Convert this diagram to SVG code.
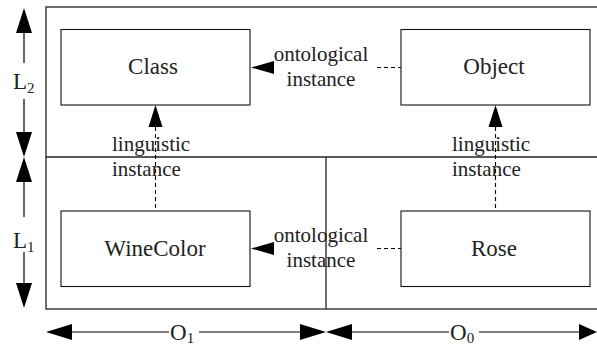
<svg xmlns="http://www.w3.org/2000/svg" width="597" height="345" viewBox="0 0 597 345">
<style>
.frame{fill:none;stroke:#222;stroke-width:1.3}
.box{fill:#fff;stroke:#111;stroke-width:1.1}
text{font-family:'Liberation Serif','DejaVu Serif',serif;fill:#222}
.lbl{font-size:23px;text-anchor:middle}
.ann{font-size:21px}
.dim{font-size:23px}
.sub{font-size:15px}
.solid{stroke:#000;stroke-width:1.2;fill:none}
.dash{stroke:#000;stroke-width:1.1;fill:none;stroke-dasharray:4,3}
.head{fill:#000}
</style>
<g id="frame">
<rect class="frame" x="46" y="7" width="560" height="302"/>
<line class="frame" x1="46" y1="157" x2="597" y2="157"/>
<line class="frame" x1="326" y1="157" x2="326" y2="309"/>
</g>
<g id="dimensions">
<polygon class="head" points="24,8 16,33 32,33"/>
<line class="solid" x1="24" y1="33" x2="24" y2="63"/>
<line class="solid" x1="24" y1="99" x2="24" y2="132"/>
<polygon class="head" points="24,157 16,132 32,132"/>
<text class="dim" x="13" y="89" font-family="Liberation Serif, serif">L<tspan class="sub" dy="4">2</tspan></text>
<polygon class="head" points="24,157 16,182 32,182"/>
<line class="solid" x1="24" y1="182" x2="24" y2="217"/>
<line class="solid" x1="24" y1="252" x2="24" y2="283"/>
<polygon class="head" points="24,308 16,283 32,283"/>
<text class="dim" x="13" y="248">L<tspan class="sub" dy="4">1</tspan></text>
<polygon class="head" points="46,332 72,324 72,340"/>
<line class="solid" x1="72" y1="332" x2="169" y2="332"/>
<line class="solid" x1="199" y1="332" x2="300" y2="332"/>
<polygon class="head" points="326,332 300,324 300,340"/>
<text class="dim" x="170" y="340">O<tspan class="sub" dy="3">1</tspan></text>
<polygon class="head" points="326,332 352,324 352,340"/>
<line class="solid" x1="352" y1="332" x2="449" y2="332"/>
<line class="solid" x1="479" y1="332" x2="579" y2="332"/>
<polygon class="head" points="597,332 579,324 579,340"/>
<text class="dim" x="450" y="340">O<tspan class="sub" dy="3">0</tspan></text>
</g>
<g id="connectors">
<line class="dash" x1="377" y1="67.5" x2="401" y2="67.5"/>
<polygon class="head" points="251,67.5 274,61 274,74"/>
<text class="ann" x="321" y="61" text-anchor="middle">ontological</text>
<text class="ann" x="321" y="86" text-anchor="middle">instance</text>
<line class="dash" x1="377" y1="248.5" x2="401" y2="248.5"/>
<polygon class="head" points="251,248.5 274,242 274,255"/>
<text class="ann" x="321" y="242" text-anchor="middle">ontological</text>
<text class="ann" x="321" y="267" text-anchor="middle">instance</text>
<line class="dash" x1="155.5" y1="127" x2="155.5" y2="211"/>
<polygon class="head" points="155.5,105 148.5,127 162.5,127"/>
<text class="ann" x="112" y="151">linguistic</text>
<text class="ann" x="112" y="176">instance</text>
<line class="dash" x1="495.5" y1="127" x2="495.5" y2="211"/>
<polygon class="head" points="495.5,105 488.5,127 502.5,127"/>
<text class="ann" x="452" y="151">linguistic</text>
<text class="ann" x="452" y="176">instance</text>
</g>
<g id="class">
<rect class="box" x="61" y="29.5" width="189" height="75.5"/>
<text class="lbl" x="153" y="74">Class</text>
</g>
<g id="object">
<rect class="box" x="401" y="29.5" width="189" height="75.5"/>
<text class="lbl" x="494" y="74">Object</text>
</g>
<g id="winecolor">
<rect class="box" x="61" y="211" width="189" height="75.5"/>
<text class="lbl" x="155" y="256">WineColor</text>
</g>
<g id="rose">
<rect class="box" x="401" y="211" width="189" height="75.5"/>
<text class="lbl" x="494" y="256">Rose</text>
</g>
</svg>
